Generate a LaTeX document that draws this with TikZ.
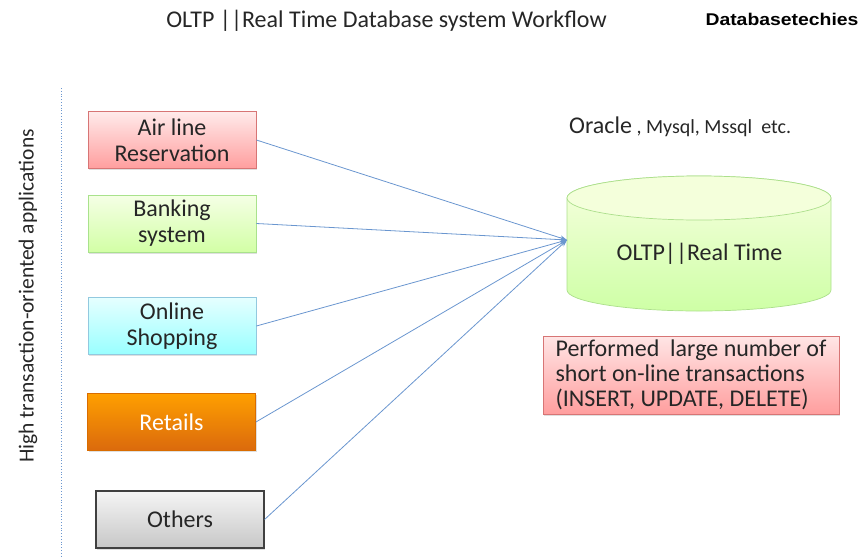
\documentclass[tikz,border=0pt]{standalone}
\usepackage{fontspec}
\setmainfont{Carlito}
\newfontfamily\arialfont{Liberation Sans}
\usetikzlibrary{arrows.meta,shadows}

\definecolor{txt}{HTML}{262626}
\definecolor{linkblue}{HTML}{6A96CF}

\tikzset{
  appbox/.style={draw, line width=0.8pt, minimum width=168pt, minimum height=57pt,
    align=center, text=txt, font=\fontsize{24}{26}\selectfont,
    drop shadow={shadow xshift=1.2pt, shadow yshift=-1.5pt, opacity=0.25}},
  redbox/.style={appbox, draw=red!55!gray!70, top color=red!8, bottom color=red!38},
  greenbox/.style={appbox, draw=green!50!olive!45, top color=green!40!yellow!10, bottom color=green!50!yellow!35},
  bluebox/.style={appbox, draw=cyan!60!gray!60, top color=cyan!10, bottom color=cyan!40},
  orangebox/.style={appbox, draw=orange!85!black, top color=orange!75!yellow, bottom color=orange!90!red!85!black!95, text=white},
  graybox/.style={appbox, draw=black!75, line width=1.1pt, top color=black!4, bottom color=black!22},
  link/.style={draw=linkblue, line width=0.8pt, -{Stealth[length=7pt,width=5pt]}},
}

\begin{document}
\begin{tikzpicture}[x=1pt,y=1pt]
\useasboundingbox (0,0) rectangle (861,-557);

% heading and brand
\node[text=txt, font=\fontsize{24}{26}\selectfont] (title) at (386.5,-21) {OLTP ||Real Time Database system Workflow};
\node[font=\arialfont\bfseries\fontsize{17}{19}\selectfont, text=black, xscale=1.14] (brand) at (782,-19) {Databasetechies};

% side label and dotted divider
\node[rotate=90, text=txt, font=\fontsize{21.5}{24}\selectfont] (side) at (28,-296) {High transaction-oriented applications};
\draw[draw=linkblue, dotted, line width=0.8pt] (61,-88) -- (61,-557);

% application boxes
\node[redbox]    (air)    at (172,-140) {Air line\\Reservation};
\node[greenbox]  (bank)   at (172,-223.5) {Banking\\system};
\node[bluebox]   (shop)   at (172,-326) {Online\\Shopping};
\node[orangebox] (retail) at (171.5,-422) {Retails};
\node[graybox]   (other)  at (180,-519.5) {Others};

% database cylinder
\shade[top color=green!25!yellow!12, bottom color=green!55!yellow!35, draw=green!45!olive!45, line width=0.7pt]
  (567,-198) -- (567,-290) arc[start angle=180, end angle=360, x radius=132, y radius=21]
  -- (831,-198) arc[start angle=0, end angle=180, x radius=132, y radius=22] -- cycle;
\draw[draw=green!45!olive!45, line width=0.7pt, fill=green!30!yellow!14]
  (699,-198) ellipse[x radius=132, y radius=22];
\coordinate (dbin) at (567,-240);
\node[text=txt, font=\fontsize{24}{26}\selectfont] (db) at (699.5,-254) {OLTP||Real Time};

\node[text=txt, anchor=base west, inner sep=0pt] (vendors) at (569,-133)
  {\fontsize{24}{26}\selectfont Oracle\fontsize{20}{22}\selectfont{} , Mysql, Mssql\ \ etc.};

% note box
\node[draw=red!55!gray!70, line width=0.8pt, top color=red!10, bottom color=red!38,
  minimum width=296pt, minimum height=78pt, align=left, text=txt,
  font=\fontsize{24}{25}\selectfont,
  drop shadow={shadow xshift=1.2pt, shadow yshift=-1.5pt, opacity=0.25}] (note) at (691,-375)
  {Performed\ \ large number of\\short on-line transactions\\(INSERT, UPDATE, DELETE)};

% connectors
\foreach \s in {air,bank,shop,retail,other}
  \draw[link] (\s.east) -- (dbin);
\end{tikzpicture}
\end{document}
